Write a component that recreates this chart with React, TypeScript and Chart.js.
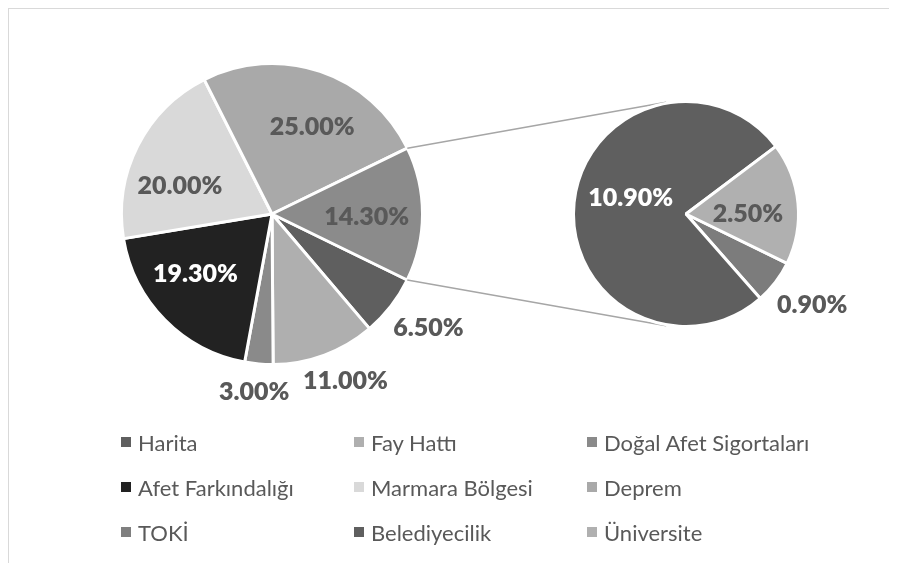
import React, { useEffect, useRef } from 'react';
import { Chart, registerables } from 'chart.js';

Chart.register(...registerables);

// ---- data ----
const legendLabels = ['Harita', 'Fay Hattı', 'Doğal Afet Sigortaları', 'Afet Farkındalığı', 'Marmara Bölgesi', 'Deprem', 'TOKİ', 'Belediyecilik', 'Üniversite'];
const mainLabels = ['Harita', 'Fay Hattı', 'Doğal Afet Sigortaları', 'Afet Farkındalığı', 'Marmara Bölgesi', 'Deprem', 'Diğer'];
const mainValues = [6.5, 11.0, 3.0, 19.3, 20.0, 25.0, 14.3];
const subLabels = ['TOKİ', 'Belediyecilik', 'Üniversite'];
const subValues = [0.9, 10.9, 2.5];

// ---- styles ----
const legendColors = ['#5f5f5f', '#afafaf', '#8a8a8a', '#222222', '#d9d9d9', '#a9a9a9', '#7f7f7f', '#5f5f5f', '#b0b0b0'];
const mainColors = ['#5f5f5f', '#afafaf', '#8a8a8a', '#222222', '#d9d9d9', '#a9a9a9', '#8b8b8b'];
const subColors = ['#7c7c7c', '#5f5f5f', '#b0b0b0'];
const mainPlacement = ['out', 'out', 'out', 'in', 'in', 'in', 'in'];
const subPlacement = ['out', 'in', 'in'];
const mainNudge = [2, 0, 0, 6.5, -10, 6, 2];
const subNudge = [3, 10, 5];
const mainFrac = [0, 0, 0, 0.645, 0.64, 0.64, 0.63];
const subFrac = [0, 0.51, 0.55];
const mainWhite = [false, false, false, true, false, false, false];
const subWhite = [false, true, false];

const W = 888;
const H = 554;
const LABEL_FONT = '800 25px Lato';
const TEXT_COLOR = '#595959';

function labelPlugin(id: string, placement: string[], frac: number[], nudge: number[], white: boolean[]) {
  return {
    id,
    afterDatasetsDraw(chart: any) {
      const ctx = chart.ctx;
      const meta = chart.getDatasetMeta(0);
      const data = chart.data.datasets[0].data as number[];
      ctx.save();
      ctx.font = LABEL_FONT;
      ctx.textAlign = 'center';
      ctx.textBaseline = 'middle';
      meta.data.forEach((arc: any, i: number) => {
        const { x, y, startAngle, endAngle, outerRadius } = arc;
        const text = Number(data[i]).toFixed(2) + '%';
        const mid = (startAngle + endAngle) / 2 + (nudge[i] * Math.PI) / 180;
        let lx: number;
        let ly: number;
        if (placement[i] === 'in') {
          lx = x + Math.cos(mid) * outerRadius * frac[i];
          ly = y + Math.sin(mid) * outerRadius * frac[i];
        } else {
          const w = ctx.measureText(text).width;
          const h = 20;
          const d = outerRadius + 18;
          lx = x + Math.cos(mid) * d + (Math.cos(mid) * w) / 2;
          ly = y + Math.sin(mid) * d + (Math.sin(mid) * h) / 2;
        }
        ctx.fillStyle = white[i] ? '#ffffff' : TEXT_COLOR;
        ctx.fillText(text, lx, ly);
      });
      ctx.restore();
    },
  };
}

function tangentPoint(px: number, py: number, cx: number, cy: number, r: number, upper: boolean) {
  const d = Math.hypot(px - cx, py - cy);
  const base = Math.atan2(py - cy, px - cx);
  const alpha = Math.acos(Math.min(1, r / d));
  const a1 = base + alpha;
  const a2 = base - alpha;
  const p1 = [cx + r * Math.cos(a1), cy + r * Math.sin(a1)];
  const p2 = [cx + r * Math.cos(a2), cy + r * Math.sin(a2)];
  if (upper) return p1[1] < p2[1] ? p1 : p2;
  return p1[1] > p2[1] ? p1 : p2;
}

export default function App() {
  const mainRef = useRef<HTMLCanvasElement>(null);
  const subRef = useRef<HTMLCanvasElement>(null);

  useEffect(() => {
    if (!mainRef.current || !subRef.current) return;
    const mainChart = new Chart(mainRef.current, {
      type: 'pie',
      data: {
        labels: mainLabels,
        datasets: [
          {
            data: mainValues,
            backgroundColor: mainColors,
            borderColor: '#ffffff',
            borderWidth: 3,
          },
        ],
      },
      options: {
        responsive: false,
        animation: false,
        events: [],
        rotation: 116,
        radius: 150.5,
        layout: { padding: { left: 0, top: 0, right: 362, bottom: 144 } },
        plugins: { legend: { display: false }, tooltip: { enabled: false } },
      },
      plugins: [labelPlugin('mainLabels', mainPlacement, mainFrac, mainNudge, mainWhite)],
    } as any);

    const connector = {
      id: 'connector',
      beforeDatasetsDraw(chart: any) {
        const other: any = mainChart.getDatasetMeta(0).data[mainValues.length - 1];
        if (!other) return;
        const { x: mx, y: my, startAngle, endAngle, outerRadius: mr } = other;
        const sub: any = chart.getDatasetMeta(0).data[0];
        const { x: cx, y: cy, outerRadius: r } = sub;
        const s = [mx + mr * Math.cos(startAngle), my + mr * Math.sin(startAngle)];
        const e = [mx + mr * Math.cos(endAngle), my + mr * Math.sin(endAngle)];
        const t1 = tangentPoint(s[0], s[1], cx, cy, r + 1, true);
        const t2 = tangentPoint(e[0], e[1], cx, cy, r + 1, false);
        const ctx = chart.ctx;
        ctx.save();
        ctx.strokeStyle = '#a6a6a6';
        ctx.lineWidth = 1.5;
        ctx.beginPath();
        ctx.moveTo(s[0], s[1]);
        ctx.lineTo(t1[0], t1[1]);
        ctx.moveTo(e[0], e[1]);
        ctx.lineTo(t2[0], t2[1]);
        ctx.stroke();
        ctx.restore();
      },
    };

    const subChart = new Chart(subRef.current, {
      type: 'pie',
      data: {
        labels: subLabels,
        datasets: [
          {
            data: subValues,
            backgroundColor: subColors,
            borderColor: '#ffffff',
            borderWidth: 3,
          },
        ],
      },
      options: {
        responsive: false,
        animation: false,
        events: [],
        rotation: 116,
        radius: 112.5,
        layout: { padding: { left: 466, top: 0, right: 0, bottom: 144 } },
        plugins: { legend: { display: false }, tooltip: { enabled: false } },
      },
      plugins: [connector, labelPlugin('subLabels', subPlacement, subFrac, subNudge, subWhite)],
    } as any);

    return () => {
      subChart.destroy();
      mainChart.destroy();
    };
  }, []);

  return (
    <div
      style={{
        position: 'relative',
        width: 889,
        height: 555,
        boxSizing: 'border-box',
        borderTop: '1px solid #d9d9d9',
        borderLeft: '1px solid #d9d9d9',
        background: '#ffffff',
        overflow: 'hidden',
      }}
    >
      <canvas ref={mainRef} width={W} height={H} style={{ position: 'absolute', left: 0, top: 0, width: W, height: H }} />
      <canvas ref={subRef} width={W} height={H} style={{ position: 'absolute', left: 0, top: 0, width: W, height: H }} />
      {legendLabels.map((label, i) => {
        const col = i % 3;
        const row = Math.floor(i / 3);
        return (
          <div
            key={label}
            style={{
              position: 'absolute',
              left: 112 + col * 233,
              top: 433 + row * 45 - 15,
              height: 30,
              display: 'flex',
              alignItems: 'center',
              fontFamily: 'Lato, sans-serif',
              fontSize: 22,
              color: TEXT_COLOR,
              whiteSpace: 'nowrap',
            }}
          >
            <span style={{ display: 'inline-block', width: 10, height: 10, background: legendColors[i], marginRight: 7 }} />
            <span>{label}</span>
          </div>
        );
      })}
    </div>
  );
}
